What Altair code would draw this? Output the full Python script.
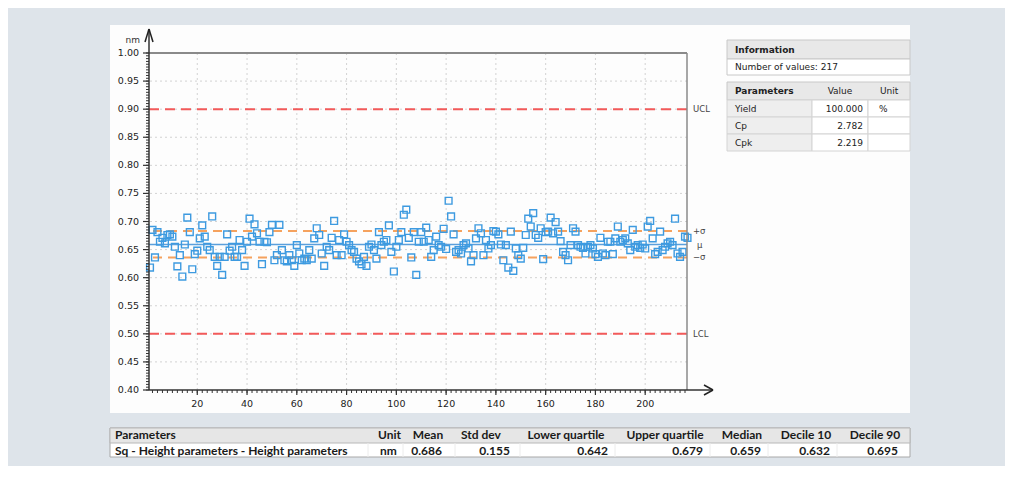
import altair as alt
import pandas as pd

# ---------------- data ----------------
seg1 = [0.618, 0.685, 0.636, 0.681, 0.664, 0.671, 0.661, 0.676, 0.677, 0.673,
        0.655, 0.620, 0.640, 0.602, 0.659, 0.707, 0.681, 0.615, 0.642, 0.648,
        0.670, 0.693, 0.673, 0.655, 0.649, 0.709, 0.637, 0.621, 0.637, 0.605,
        0.637, 0.677, 0.648, 0.655, 0.637, 0.637, 0.667, 0.649, 0.621, 0.664,
        0.705, 0.673, 0.695, 0.679, 0.664, 0.624, 0.664, 0.663, 0.681, 0.694,
        0.631, 0.640, 0.694, 0.649, 0.631, 0.629, 0.640, 0.631, 0.621, 0.658,
        0.643, 0.631, 0.634, 0.631, 0.649, 0.634, 0.670, 0.688, 0.676, 0.643,
        0.621, 0.655, 0.649, 0.671, 0.701, 0.640]
seg2 = [0.667, 0.640, 0.677, 0.664, 0.658, 0.649, 0.646, 0.634, 0.629, 0.624,
        0.637, 0.621, 0.655, 0.659, 0.649, 0.634, 0.681, 0.658, 0.664, 0.667,
        0.693, 0.646, 0.611, 0.655, 0.667, 0.681, 0.712, 0.721, 0.671, 0.636,
        0.681, 0.605, 0.664, 0.681, 0.664, 0.689, 0.667, 0.637, 0.649, 0.673,
        0.658, 0.655, 0.687, 0.651, 0.737, 0.709, 0.677, 0.646, 0.649, 0.643,
        0.658, 0.661, 0.652, 0.629, 0.640, 0.670, 0.688, 0.679, 0.640, 0.667,
        0.652, 0.658, 0.683, 0.682, 0.677, 0.659, 0.631, 0.658, 0.618, 0.682,
        0.612, 0.652, 0.640, 0.634, 0.653, 0.676, 0.705]
seg3 = [0.691, 0.715, 0.676, 0.671, 0.688, 0.633, 0.681, 0.682, 0.707, 0.679,
        0.699, 0.682, 0.665, 0.646, 0.640, 0.631, 0.658, 0.688, 0.682, 0.658,
        0.655, 0.653, 0.643, 0.655, 0.658, 0.652, 0.642, 0.637, 0.671, 0.643,
        0.640, 0.664, 0.664, 0.642, 0.670, 0.691, 0.664, 0.667, 0.670, 0.661,
        0.649, 0.685, 0.655, 0.658, 0.653, 0.659, 0.652, 0.691, 0.701, 0.670,
        0.642, 0.646, 0.682, 0.649, 0.655, 0.661, 0.664, 0.658, 0.705, 0.643,
        0.637, 0.646, 0.673, 0.671]
sq_values = seg1 + seg2 + seg3
sample_index = list(range(1, len(sq_values) + 1))

limit_labels = ["UCL", "LCL"]
limit_values = [0.90, 0.50]
sigma_labels = ["+σ", "−σ"]
sigma_values = [0.683, 0.636]
mean_label = "μ"
mean_value = 0.659

y_ticks = [0.40, 0.45, 0.50, 0.55, 0.60, 0.65, 0.70, 0.75, 0.80, 0.85, 0.90, 0.95, 1.00]
x_ticks = [20, 40, 60, 80, 100, 120, 140, 160, 180, 200]
y_unit = "nm"

info_title = "Information"
info_count_text = "Number of values: 217"
param_headers = ["Parameters", "Value", "Unit"]
param_names = ["Yield", "Cp", "Cpk"]
param_values = ["100.000", "2.782", "2.219"]
param_units = ["%", "", ""]

stats_headers = ["Parameters", "Unit", "Mean", "Std dev", "Lower quartile",
                 "Upper quartile", "Median", "Decile 10", "Decile 90"]
stats_row = ["Sq - Height parameters - Height parameters", "nm", "0.686", "0.155",
             "0.642", "0.679", "0.659", "0.632", "0.695"]

# ---------------- layout (pixels relative to plot origin) ----------------
W, H = 538, 337
FONT = "DejaVu Sans"
TFONT = "Lato"
ONE = alt.Data(values=[{"k": 0}])

xs = alt.Scale(domain=[0.6, 216.8], nice=False, zero=False)
ys = alt.Scale(domain=[0.40, 1.00], nice=False, zero=False)


def X(field):
    return alt.X(field, scale=xs, axis=None)


def Y(field):
    return alt.Y(field, scale=ys, axis=None)


def box(x, x2, y, y2, fill, stroke=None, sw=1.0):
    kw = dict(fill=fill)
    if stroke:
        kw.update(stroke=stroke, strokeWidth=sw)
    else:
        kw.update(strokeWidth=0)
    return alt.Chart(ONE).mark_rect(**kw).encode(
        x=alt.value(x), x2=alt.value(x2), y=alt.value(y), y2=alt.value(y2))


def seg(x, y, x2, y2, color="#222", width=1.5):
    return alt.Chart(ONE).mark_rule(color=color, strokeWidth=width).encode(
        x=alt.value(x), y=alt.value(y), x2=alt.value(x2), y2=alt.value(y2))


def label(text, x, y, size=9, bold=False, align="left", font=FONT, color="#222"):
    return alt.Chart(ONE).mark_text(
        text=text, align=align, baseline="middle", font=font, fontSize=size,
        fontWeight="bold" if bold else "normal", color=color).encode(
        x=alt.value(x), y=alt.value(y))


layers = []
# white panel
layers.append(box(-39, 761, -28, 360, "#fdfdfd"))

ytick_data = alt.Data(values=[{"v": t} for t in y_ticks])
xtick_data = alt.Data(values=[{"v": t} for t in x_ticks])

# grid
grid_y = alt.Chart(ytick_data).transform_filter("datum.v > 0.41 && datum.v < 0.99").mark_rule(
    color="#d2d2d2", strokeDash=[2, 3], strokeWidth=1).encode(y=Y("v:Q"))
grid_x = alt.Chart(xtick_data).mark_rule(
    color="#d2d2d2", strokeDash=[2, 3], strokeWidth=1).encode(x=X("v:Q"))
layers += [grid_y, grid_x]

# control lines
lim_df = pd.DataFrame({"v": limit_values, "t": limit_labels})
sig_df = pd.DataFrame({"v": sigma_values, "t": sigma_labels})
mean_df = pd.DataFrame({"v": [mean_value], "t": [mean_label]})
layers.append(alt.Chart(lim_df).mark_rule(color="#f25a5a", strokeWidth=2, strokeDash=[10, 6]).encode(y=Y("v:Q")))
layers.append(alt.Chart(sig_df).mark_rule(color="#f5a25e", strokeWidth=2, strokeDash=[9, 6]).encode(y=Y("v:Q")))
layers.append(alt.Chart(mean_df).mark_rule(color="#5a9fdc", strokeWidth=1.5).encode(y=Y("v:Q")))

# points
df = pd.DataFrame({"index": sample_index, "sq": sq_values})
points = alt.Chart(df).mark_point(shape="square", filled=False, size=46, strokeWidth=1.4,
                                  color="#3d9ae0", opacity=1).encode(
    x=X("index:Q"), y=Y("sq:Q"))
layers.append(points)

# ticks (major + minor) and tick labels
minor_y = alt.Chart(alt.sequence(0, 121, 1, as_="k")).transform_calculate(
    v="0.40 + datum.k * 0.005").mark_rule(color="#333", strokeWidth=1).encode(
    y=Y("v:Q"), x=alt.value(-3), x2=alt.value(0))
minor_x = alt.Chart(alt.sequence(1, 109, 1, as_="k")).transform_calculate(
    v="datum.k * 2").mark_rule(color="#333", strokeWidth=1).encode(
    x=X("v:Q"), y=alt.value(H), y2=alt.value(H + 3))
major_y = alt.Chart(ytick_data).mark_rule(color="#333", strokeWidth=1.2).encode(
    y=Y("v:Q"), x=alt.value(-6), x2=alt.value(0))
major_x = alt.Chart(xtick_data).mark_rule(color="#333", strokeWidth=1.2).encode(
    x=X("v:Q"), y=alt.value(H), y2=alt.value(H + 5))
ylab = alt.Chart(ytick_data).transform_calculate(t="format(datum.v, '.2f')").mark_text(
    align="right", baseline="middle", font=FONT, fontSize=9.5, color="#222").encode(
    y=Y("v:Q"), x=alt.value(-10), text="t:N")
xlab = alt.Chart(xtick_data).transform_calculate(t="format(datum.v, 'd')").mark_text(
    align="center", baseline="top", font=FONT, fontSize=9.5, color="#222").encode(
    x=X("v:Q"), y=alt.value(H + 9), text="t:N")
layers += [minor_y, minor_x, major_y, major_x, ylab, xlab]

# frame, axis lines and arrows
layers.append(seg(0, 0, W, 0, "#8a8a8a", 2))
layers.append(seg(W, 0, W, H, "#8a8a8a", 1.5))
layers.append(seg(0, -24, 0, H, "#333", 1.5))
layers.append(seg(0, H, 564, H, "#333", 1.5))
layers.append(seg(0, -24, -4, -11, "#222", 1.5))
layers.append(seg(0, -24, 4, -11, "#222", 1.5))
layers.append(seg(564, H, 555, H - 5, "#222", 1.5))
layers.append(seg(564, H, 555, H + 5, "#222", 1.5))
layers.append(label(y_unit, -9, -13, size=9, align="right", color="#333"))

# line labels
for d, dx in ((lim_df, 544), (sig_df, 544), (mean_df, 548)):
    layers.append(alt.Chart(d).mark_text(align="left", baseline="middle", font=FONT,
                                         fontSize=8.5, color="#444").encode(
        y=Y("v:Q"), x=alt.value(dx), text="t:N"))

# ---------------- info tables (right) ----------------
layers.append(box(578, 761, -13, 6, "#e8e8e8", "#c8c8c8"))
layers.append(label(info_title, 586, -3.5, size=9, bold=True))
layers.append(box(578, 761, 6, 22, "#ffffff", "#c8c8c8"))
layers.append(label(info_count_text, 586, 14, size=9))

layers.append(box(578, 761, 29, 47, "#e8e8e8", "#c8c8c8"))
layers.append(label(param_headers[0], 586, 38, size=9, bold=True))
layers.append(label(param_headers[1], 691, 38, size=9, align="center"))
layers.append(label(param_headers[2], 731, 38, size=9))
row_top = 47
for i in range(len(param_names)):
    y0 = row_top + 17 * i
    layers.append(box(578, 663, y0, y0 + 17, "#eeeeee", "#d4d4d4"))
    layers.append(box(663, 719, y0, y0 + 17, "#ffffff", "#d4d4d4"))
    layers.append(box(719, 761, y0, y0 + 17, "#ffffff", "#d4d4d4"))
    layers.append(label(param_names[i], 586, y0 + 8.5, size=9))
    layers.append(label(param_values[i], 714, y0 + 8.5, size=9, align="right"))
    if param_units[i]:
        layers.append(label(param_units[i], 730, y0 + 8.5, size=9))

# ---------------- statistics table (bottom) ----------------
layers.append(box(-39, 761, 375, 404, "#ffffff", "#a8a8a8"))
layers.append(box(-39, 761, 375, 390, "#e6e6e6", "#b8b8b8"))
for sx in (219, 254, 306, 371, 466, 561, 619, 688):
    layers.append(seg(sx, 390, sx, 404, "#ececec", 1))
head_x = [-34, 229, 279, 332, 417, 516, 593, 657, 726]
head_align = ["left", "left", "center", "center", "center", "center", "center", "center", "center"]
row_x = [-34, 231, 293, 361, 459, 554, 612, 681, 749]
row_align = ["left", "left", "right", "right", "right", "right", "right", "right", "right"]
for i in range(len(stats_headers)):
    layers.append(label(stats_headers[i], head_x[i], 382, size=12, bold=True,
                        align=head_align[i], font=TFONT, color="#1a1a1a"))
    layers.append(label(stats_row[i], row_x[i], 397.5, size=12, bold=True,
                        align=row_align[i], font=TFONT, color="#1a1a1a"))

chart = alt.layer(*layers).properties(
    width=W, height=H,
    autosize=alt.AutoSizeParams(type="none"),
    padding={"left": 141, "top": 45, "right": 318, "bottom": 76},
).configure(background="#dee4ea").configure_view(stroke=None)

chart.save("out.html", embed_options={"renderer": "svg", "actions": False})
